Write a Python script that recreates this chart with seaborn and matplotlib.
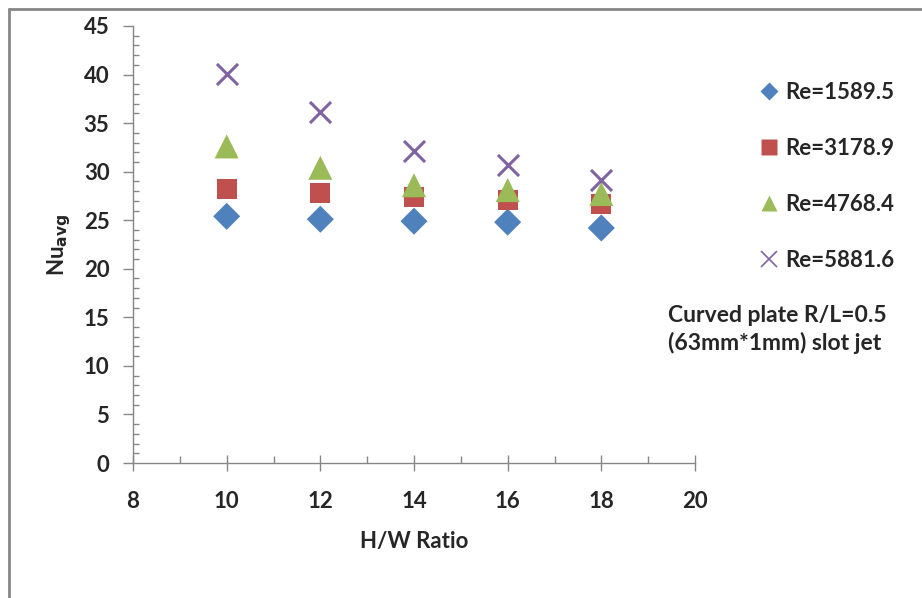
import matplotlib
matplotlib.use("Agg")
import matplotlib.pyplot as plt
import seaborn as sns
import pandas as pd
from matplotlib.lines import Line2D

hw_ratio = [10, 12, 14, 16, 18]
nu_1589 = [25.4, 25.1, 24.9, 24.8, 24.2]
nu_3178 = [28.2, 27.8, 27.4, 27.1, 26.7]
nu_4768 = [32.6, 30.4, 28.6, 28.1, 27.7]
nu_5881 = [40.1, 36.1, 32.1, 30.7, 29.1]
series_labels = ["Re=1589.5", "Re=3178.9", "Re=4768.4", "Re=5881.6"]
x_ticks = [8, 10, 12, 14, 16, 18, 20]
y_ticks = [0, 5, 10, 15, 20, 25, 30, 35, 40, 45]

sns.set_theme(style="white")
plt.rcParams['font.family'] = ['Lato', 'DejaVu Sans']

frames = []
for lab, vals in zip(series_labels, [nu_1589, nu_3178, nu_4768, nu_5881]):
    frames.append(pd.DataFrame({"hw": hw_ratio, "nu": vals, "series": lab}))
df = pd.concat(frames, ignore_index=True)

colors = {"Re=1589.5": "#4F81BD", "Re=3178.9": "#C0504D",
          "Re=4768.4": "#9BBB59", "Re=5881.6": "#8064A2"}
markers = {"Re=1589.5": "D", "Re=3178.9": "s", "Re=4768.4": "^", "Re=5881.6": "x"}
sizes = {"Re=1589.5": 190, "Re=3178.9": 210, "Re=4768.4": 300, "Re=5881.6": 230}

fig = plt.figure(figsize=(9.22, 5.98), dpi=100)
ax = fig.add_axes([133/922, 1-463/598, (695-133)/922, (463-26)/598])

for lab in series_labels:
    sub = df[df["series"] == lab]
    kw = dict(linewidth=2.2) if markers[lab] == "x" else dict(edgecolor="none")
    sns.scatterplot(data=sub, x="hw", y="nu", color=colors[lab], marker=markers[lab],
                    s=sizes[lab], ax=ax, legend=False, zorder=3, **kw)

ax.set_xlim(8, 20)
ax.set_ylim(0, 45)
ax.set_xticks(x_ticks)
ax.set_yticks(y_ticks)
ax.set_xticks(range(8, 21), minor=True)
ax.set_yticks(range(0, 46), minor=True)
grey = "#868686"
for s in ["top", "right"]:
    ax.spines[s].set_visible(False)
for s in ["left", "bottom"]:
    ax.spines[s].set_color(grey)
    ax.spines[s].set_linewidth(1.0)
ax.tick_params(axis="x", which="major", direction="inout", length=12, width=1, color=grey,
               labelsize=16, pad=14)
ax.tick_params(axis="y", which="major", direction="out", length=7, width=1, color=grey,
               labelsize=16, pad=10)
ax.tick_params(axis="both", which="minor", direction="in", length=4, width=1, color=grey)
ax.tick_params(axis="x", which="minor", length=5)
ax.tick_params(axis="both", which="both", bottom=True, left=True)
for t in ax.get_xticklabels() + ax.get_yticklabels():
    t.set_fontweight("bold")
ax.set_xlabel("H/W Ratio", fontsize=16, fontweight="bold", labelpad=14)
ax.set_ylabel(r"Nu$_{\mathbf{avg}}$", fontsize=16, fontweight="bold", labelpad=8)

handles = []
for lab in series_labels:
    if markers[lab] == "x":
        h = Line2D([], [], linestyle="none", marker="x", color=colors[lab],
                   markersize=11, markeredgewidth=1.2, label=lab)
    else:
        h = Line2D([], [], linestyle="none", marker=markers[lab], color=colors[lab],
                   markeredgecolor="none", markersize={"D": 9, "s": 11, "^": 12}[markers[lab]],
                   label=lab)
    handles.append(h)
leg = fig.legend(handles=handles, loc="upper left", bbox_to_anchor=(750/922, 1-73/598),
                 frameon=False, prop={"family": "Lato", "weight": "bold", "size": 16},
                 labelspacing=1.58, handlelength=0.9, handletextpad=0.3, borderaxespad=0)

fig.text(668/922, 1-322/598, "Curved plate R/L=0.5", fontsize=16.5, fontweight="bold",
         ha="left", va="baseline")
fig.text(668/922, 1-350/598, "(63mm*1mm) slot jet", fontsize=16.5, fontweight="bold",
         ha="left", va="baseline")

fig.add_artist(Line2D([9/922, 9/922], [0, 1-9/598], transform=fig.transFigure,
                      color=grey, linewidth=2))
fig.add_artist(Line2D([9/922, 1], [1-9/598, 1-9/598], transform=fig.transFigure,
                      color=grey, linewidth=2))

fig.savefig("out.png", dpi=100)
